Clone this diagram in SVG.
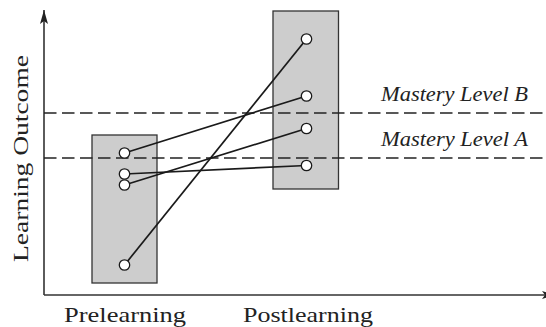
<svg xmlns="http://www.w3.org/2000/svg" width="546" height="327" viewBox="0 0 546 327">
<defs>
<style>
.box{fill:#cdcdcd;stroke:#333;stroke-width:1.3}
.axis{stroke:#333;stroke-width:1.6;fill:none}
.dash{stroke:#222;stroke-width:1.3;stroke-dasharray:12.5 5.5;fill:none}
.link{stroke:#1a1a1a;stroke-width:1.7;fill:none}
.pt{fill:#fff;stroke:#1a1a1a;stroke-width:1.3}
.lbl{font-family:"Liberation Serif","Times New Roman",serif;font-size:22px;fill:#222}
.ml{font-family:"Liberation Serif","Times New Roman",serif;font-size:20px;font-style:italic;fill:#222}
</style>
<marker id="ahx" viewBox="0 0 14 10" refX="14" refY="5" markerWidth="14" markerHeight="10" markerUnits="userSpaceOnUse" orient="auto">
<path d="M0,1 L14,5 L0,9 L3,5 Z" fill="#222"/>
</marker>
</defs>
<rect width="546" height="327" fill="#fff"/>
<g id="axes">
<line class="axis" x1="44" y1="295" x2="44" y2="10" marker-end="url(#ahx)"/>
<line class="axis" x1="44" y1="295" x2="556" y2="295" marker-end="url(#ahx)"/>
</g>
<g id="prelearning-box"><rect class="box" x="92" y="135" width="65" height="148"/></g>
<g id="postlearning-box"><rect class="box" x="273" y="11" width="65.5" height="178"/></g>
<g id="mastery-levels">
<line class="dash" x1="44" y1="113" x2="546" y2="113"/>
<line class="dash" x1="44" y1="158" x2="546" y2="158"/>
<text class="ml" x="381" y="101" textLength="147" lengthAdjust="spacingAndGlyphs">Mastery Level B</text>
<text class="ml" x="381" y="146" textLength="147" lengthAdjust="spacingAndGlyphs">Mastery Level A</text>
</g>
<g id="connectors">
<line class="link" x1="124.5" y1="265" x2="306.5" y2="39"/>
<line class="link" x1="124.5" y1="153" x2="306.5" y2="96"/>
<line class="link" x1="124.5" y1="185" x2="306.5" y2="128.5"/>
<line class="link" x1="124.5" y1="174" x2="306.5" y2="165.5"/>
</g>
<g id="pre-points">
<circle class="pt" cx="124.5" cy="153" r="5.2"/>
<circle class="pt" cx="124.5" cy="174" r="5.2"/>
<circle class="pt" cx="124.5" cy="185" r="5.2"/>
<circle class="pt" cx="124.5" cy="265" r="5.2"/>
</g>
<g id="post-points">
<circle class="pt" cx="306.5" cy="39" r="5.2"/>
<circle class="pt" cx="306.5" cy="96" r="5.2"/>
<circle class="pt" cx="306.5" cy="128.5" r="5.2"/>
<circle class="pt" cx="306.5" cy="165.5" r="5.2"/>
</g>
<g id="labels">
<text class="lbl" x="64" y="322" textLength="122" lengthAdjust="spacingAndGlyphs">Prelearning</text>
<text class="lbl" x="243" y="322" textLength="130" lengthAdjust="spacingAndGlyphs">Postlearning</text>
<text class="lbl" transform="translate(28,262) rotate(-90)" x="0" y="0" textLength="207" lengthAdjust="spacingAndGlyphs">Learning Outcome</text>
</g>
</svg>
